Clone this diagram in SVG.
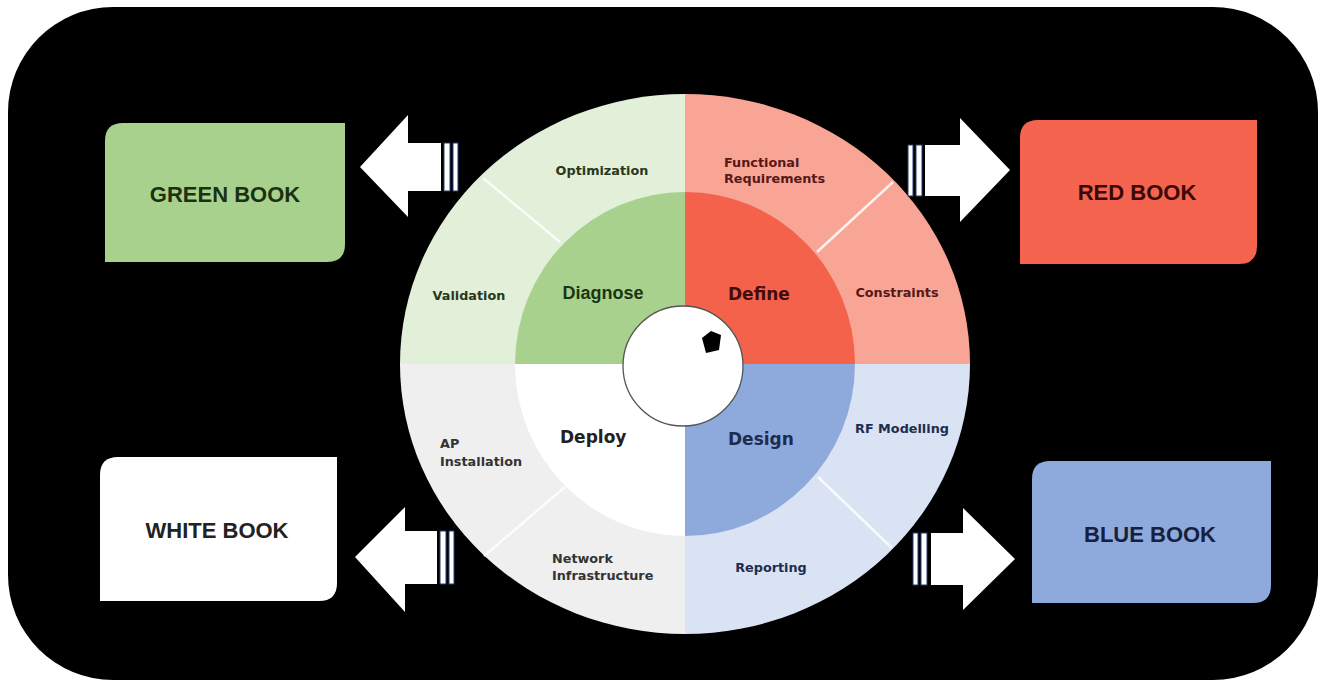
<svg xmlns="http://www.w3.org/2000/svg" width="1323" height="686" viewBox="0 0 1323 686">
<defs>
<style>
.ring{font-family:"DejaVu Sans","Liberation Sans",sans-serif;font-weight:bold;font-size:12.8px}
.core{font-family:"DejaVu Sans","Liberation Sans",sans-serif;font-weight:bold;font-size:17px}
.book{font-family:"Liberation Sans",Arial,sans-serif;font-weight:bold;font-size:22px;text-anchor:middle}
.div{stroke:#ffffff;stroke-width:2.5;opacity:0.85}
.arrow{fill:#ffffff}
.bar{fill:#ffffff;stroke:#2a3a70;stroke-width:1}
</style>
</defs>
<rect x="0" y="0" width="1323" height="686" fill="#ffffff"/>
<rect x="8" y="7" width="1310" height="673" rx="105" ry="105" fill="#000000"/>

<g id="wheel">
  <path d="M685,364 L400,364 A285,270 0 0 1 685,94 Z" fill="#e2efd9"/>
  <path d="M685,364 L685,94 A285,270 0 0 1 970,364 Z" fill="#f8a595"/>
  <path d="M685,364 L970,364 A285,270 0 0 1 685,634 Z" fill="#dae3f3"/>
  <path d="M685,364 L685,634 A285,270 0 0 1 400,364 Z" fill="#efefef"/>
  <path d="M685,364 L515,364 A170,172 0 0 1 685,192 Z" fill="#a9d18e"/>
  <path d="M685,364 L685,192 A170,172 0 0 1 855,364 Z" fill="#f4624b"/>
  <path d="M685,364 L855,364 A170,172 0 0 1 685,536 Z" fill="#8eaadc"/>
  <path d="M685,364 L685,536 A170,172 0 0 1 515,364 Z" fill="#ffffff"/>
  <line class="div" x1="560" y1="242" x2="483" y2="178"/>
  <line class="div" x1="817" y1="252" x2="893" y2="182"/>
  <line class="div" x1="818" y1="477" x2="892" y2="548"/>
  <line class="div" x1="565" y1="487" x2="484" y2="556" opacity="0.6"/>
  <circle cx="683" cy="366" r="60" fill="#ffffff" stroke="#555555" stroke-width="1.3"/>
  <polygon points="702,338 711,331 721,335 719,350 706,353" fill="#000000"/>
</g>

<g id="diagnose">
  <text class="ring" x="602" y="175" text-anchor="middle" fill="#263820">Optimization</text>
  <text class="ring" x="469" y="300" text-anchor="middle" fill="#263820">Validation</text>
  <text x="603" y="299" text-anchor="middle" font-family="Liberation Sans, Arial, sans-serif" font-weight="bold" font-size="18" fill="#1a3512">Diagnose</text>
</g>
<g id="define">
  <text class="ring" x="724" y="167" fill="#561818">Functional</text>
  <text class="ring" x="724" y="183" fill="#561818">Requirements</text>
  <text class="core" x="728" y="300" fill="#450c0c">Define</text>
  <text class="ring" x="897" y="297" text-anchor="middle" fill="#561818">Constraints</text>
</g>
<g id="design">
  <text class="core" x="728" y="445" fill="#1e2c50">Design</text>
  <text class="ring" x="902" y="433" text-anchor="middle" fill="#1e2c50">RF Modelling</text>
  <text class="ring" x="771" y="572" text-anchor="middle" fill="#1e2c50">Reporting</text>
</g>
<g id="deploy">
  <text class="core" x="560" y="443" fill="#222222">Deploy</text>
  <text class="ring" x="440" y="448" fill="#333333">AP</text>
  <text class="ring" x="440" y="466" fill="#333333">Installation</text>
  <text class="ring" x="552" y="563" fill="#333333">Network</text>
  <text class="ring" x="552" y="580" fill="#333333">Infrastructure</text>
</g>

<g id="green-book">
  <path d="M123,123 L345,123 L345,244 Q345,262 327,262 L105,262 L105,141 Q105,123 123,123 Z" fill="#a9d18e"/>
  <text class="book" x="225" y="202" fill="#1b3212">GREEN BOOK</text>
</g>
<g id="red-book">
  <path d="M1038,120 L1257,120 L1257,246 Q1257,264 1239,264 L1020,264 L1020,138 Q1020,120 1038,120 Z" fill="#f4644e"/>
  <text class="book" x="1137" y="200" fill="#3a0808">RED BOOK</text>
</g>
<g id="white-book">
  <path d="M118,457 L337,457 L337,583 Q337,601 319,601 L100,601 L100,475 Q100,457 118,457 Z" fill="#ffffff"/>
  <text class="book" x="217" y="538" fill="#222222">WHITE BOOK</text>
</g>
<g id="blue-book">
  <path d="M1050,461 L1271,461 L1271,585 Q1271,603 1253,603 L1032,603 L1032,479 Q1032,461 1050,461 Z" fill="#8eaadc"/>
  <text class="book" x="1150" y="542" fill="#17213d">BLUE BOOK</text>
</g>

<g id="connectors">
  <polygon class="arrow" points="360,167 408,115 408,143 441,143 441,191 408,191 408,217"/>
  <rect class="bar" x="444" y="143" width="6" height="48"/>
  <rect class="bar" x="453" y="143" width="5" height="48"/>

  <polygon class="arrow" points="1010,170 960,118 960,145 925,145 925,196 960,196 960,222"/>
  <rect class="bar" x="908" y="145" width="5" height="51"/>
  <rect class="bar" x="916" y="145" width="6" height="51"/>

  <polygon class="arrow" points="355,557 405,507 405,531 437,531 437,584 405,584 405,612"/>
  <rect class="bar" x="440" y="531" width="6" height="53"/>
  <rect class="bar" x="449" y="531" width="5" height="53"/>

  <polygon class="arrow" points="1015,559 963,508 963,533 931,533 931,585 963,585 963,610"/>
  <rect class="bar" x="913" y="533" width="5" height="52"/>
  <rect class="bar" x="921" y="533" width="6" height="52"/>
</g>
</svg>
